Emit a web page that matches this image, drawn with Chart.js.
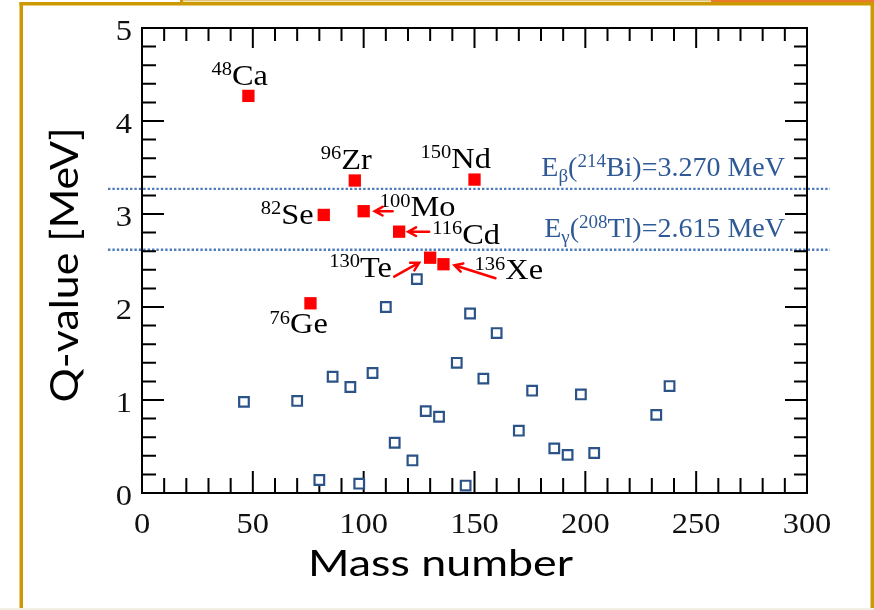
<!DOCTYPE html>
<html><head><meta charset="utf-8">
<script src="https://cdn.jsdelivr.net/npm/chart.js@4.4.0/dist/chart.umd.min.js"></script>
<style>html,body{margin:0;padding:0;background:#fff;}canvas{display:block;}</style>
</head><body>
<canvas id="c" width="874" height="610"></canvas>
<script>
// ---------------- data ----------------
const candidateMass    = [48, 76, 82, 96, 100, 116, 130, 136, 150];
const candidateQ       = [4.27, 2.04, 2.99, 3.36, 3.03, 2.81, 2.53, 2.46, 3.37];
const candidateElement = ['Ca', 'Ge', 'Se', 'Zr', 'Mo', 'Cd', 'Te', 'Xe', 'Nd'];

const otherMass = [46, 70, 80, 86, 94, 98, 104, 110, 114, 122, 124, 128, 134, 142, 146, 148, 154, 160, 170, 176, 186, 192, 198, 204, 232, 238];
const otherQ    = [0.98, 0.99, 0.14, 1.25, 1.14, 0.10, 1.29, 2.00, 0.54, 0.35, 2.30, 0.88, 0.82, 1.40, 0.08, 1.93, 1.23, 1.72, 0.67, 1.10, 0.48, 0.41, 1.06, 0.43, 0.84, 1.15];

const xTickLabels = ['0', '50', '100', '150', '200', '250', '300'];
const yTickLabels = ['0', '1', '2', '3', '4', '5'];

const refLineValues = [3.270, 2.615];
const refLineText = [
  [['E', 'n'], ['\u03B2', 'sub'], ['(', 'n'], ['214', 'sup'], ['Bi)=3.270 MeV', 'n']],
  [['E', 'n'], ['\u03B3', 'sub'], ['(', 'n'], ['208', 'sup'], ['Tl)=2.615 MeV', 'n']]
];

const xTitle = 'Mass number';
const yTitle = 'Q-value [MeV]';

// ---------------- layout / style (pixel offsets, not data) ----------------
const labelOffset = { // start x and baseline of each isotope label, relative to its point
  Ca: [-37, -11], Ge: [-41, 30], Se: [-63, 9], Zr: [-34, -12], Mo: [16, 5],
  Cd: [33, 12], Te: [-101, 19], Xe: [31, 15], Nd: [-54, -12]
};
const arrowOffset = { // tail and head relative to point
  Mo: [[29, 0], [11, 0]],
  Cd: [[30, 0], [9, 0]],
  Te: [[-36, 19], [-11, 5]],
  Xe: [[52, 14], [11, 1]]
};
const SERIF = '"Liberation Serif", "Times New Roman", serif';
const SANS = 'Lato, "Open Sans", sans-serif';
const RED = '#ff0000';
const BLUE = '#2b5388';

function drawRich(ctx, segs, x, base, size, supSize, sx, color, align) {
  ctx.save();
  ctx.fillStyle = color;
  ctx.textBaseline = 'alphabetic';
  ctx.textAlign = 'left';
  const parts = segs.map(([t, k]) => {
    const fs = k === 'n' ? size : supSize;
    ctx.font = fs + 'px ' + SERIF;
    return { t, k, fs, w: ctx.measureText(t).width * sx };
  });
  const total = parts.reduce((s, p) => s + p.w, 0);
  let cx = align === 'right' ? x - total : (align === 'center' ? x - total / 2 : x);
  parts.forEach(p => {
    ctx.font = p.fs + 'px ' + SERIF;
    let dy = 0;
    if (p.k === 'sup') dy = -size * 0.32;
    if (p.k === 'sub') dy = size * 0.2;
    ctx.save();
    ctx.translate(cx, base + dy);
    ctx.scale(sx, 1);
    ctx.fillText(p.t, 0, 0);
    ctx.restore();
    cx += p.w;
  });
  ctx.restore();
}

function drawFit(ctx, txt, cx, base, font, targetW, rot) {
  ctx.save();
  ctx.font = font;
  ctx.fillStyle = '#000';
  ctx.textBaseline = 'alphabetic';
  ctx.textAlign = 'left';
  const w = ctx.measureText(txt).width;
  const s = targetW / w;
  ctx.translate(cx, base);
  if (rot) ctx.rotate(rot);
  ctx.scale(s, 1);
  ctx.fillText(txt, -w / 2, 0);
  ctx.restore();
}

const decorPlugin = {
  id: 'decor',
  beforeDraw(chart) {
    const ctx = chart.ctx;
    ctx.save();
    ctx.fillStyle = '#ffffff';
    ctx.fillRect(0, 0, 874, 610);
    ctx.fillStyle = '#f2f0e2';
    ctx.fillRect(0, 608, 874, 2);
    ctx.fillStyle = '#e0c678';
    ctx.fillRect(181, 0, 530, 1.5);
    ctx.fillStyle = '#ea7a2c';
    ctx.fillRect(711, 0, 163, 2);
    ctx.fillStyle = '#cc9900';
    ctx.fillRect(180, 0, 3, 3);
    ctx.fillRect(19.5, 2, 874, 3.5);
    ctx.fillRect(19.5, 2, 3.5, 606);
    ctx.fillRect(870.5, 2, 3.5, 606);
    ctx.restore();
  },
  beforeDatasetsDraw(chart) {
    const { ctx, chartArea: a, scales: { x, y } } = chart;
    // reference lines
    ctx.save();
    ctx.strokeStyle = '#4f7cbb';
    ctx.lineWidth = 2.4;
    ctx.setLineDash([2.4, 2]);
    refLineValues.forEach(v => {
      const py = y.getPixelForValue(v);
      ctx.beginPath();
      ctx.moveTo(a.left - 34, py);
      ctx.lineTo(a.right + 23, py);
      ctx.stroke();
    });
    ctx.restore();
    // frame + inward ticks
    ctx.save();
    ctx.strokeStyle = '#000';
    ctx.lineWidth = 2;
    ctx.strokeRect(a.left, a.top, a.right - a.left, a.bottom - a.top);
    ctx.beginPath();
    for (let i = 1; i < 30; i++) {
      const v = i * 10, major = v % 50 === 0;
      const px = x.getPixelForValue(v);
      ctx.moveTo(px, a.bottom); ctx.lineTo(px, a.bottom - (major ? 22 : 15));
      ctx.moveTo(px, a.top); ctx.lineTo(px, a.top + (major ? 20 : 13));
    }
    for (let i = 1; i < 25; i++) {
      const v = i * 0.2, major = i % 5 === 0;
      const py = y.getPixelForValue(v);
      ctx.moveTo(a.left, py); ctx.lineTo(a.left + (major ? 22 : 14), py);
      ctx.moveTo(a.right, py); ctx.lineTo(a.right - (major ? 22 : 13), py);
    }
    ctx.stroke();
    ctx.restore();
    // tick labels
    ctx.save();
    ctx.fillStyle = '#111';
    ctx.font = '29px ' + SERIF;
    ctx.textBaseline = 'alphabetic';
    xTickLabels.forEach(t => {
      const px = x.getPixelForValue(parseFloat(t));
      const w = ctx.measureText(t).width * 1.12;
      ctx.save(); ctx.translate(px - w / 2, a.bottom + 40); ctx.scale(1.12, 1); ctx.fillText(t, 0, 0); ctx.restore();
    });
    yTickLabels.forEach(t => {
      const py = y.getPixelForValue(parseFloat(t));
      const w = ctx.measureText(t).width * 1.12;
      ctx.save(); ctx.translate(a.left - 10 - w, py + 12); ctx.scale(1.12, 1); ctx.fillText(t, 0, 0); ctx.restore();
    });
    ctx.restore();
    // axis titles
    drawFit(ctx, xTitle, (a.left + a.right) / 2 - 34, 576, '36px ' + SANS, 265, 0);
    drawFit(ctx, yTitle, 78, 265, '38px ' + SANS, 275, -Math.PI / 2);
  },
  afterDatasetsDraw(chart) {
    const { ctx, chartArea: a, scales: { x, y } } = chart;
    // reference line labels
    refLineValues.forEach((v, i) => {
      const py = y.getPixelForValue(v);
      drawRich(ctx, refLineText[i], a.right - 22, py - 12.5, 28, 19, 1.0, '#2f5a96', 'right');
    });
    // isotope labels
    candidateElement.forEach((el, i) => {
      const px = x.getPixelForValue(candidateMass[i]);
      const py = y.getPixelForValue(candidateQ[i]);
      const [dx, dy] = labelOffset[el];
      drawRich(ctx, [[String(candidateMass[i]), 'sup'], [el, 'n']], px + dx, py + dy, 30, 19, 1.08, '#000', 'left');
    });
    // arrows
    ctx.save();
    ctx.strokeStyle = RED;
    ctx.lineWidth = 2.5;
    ctx.lineCap = 'round';
    candidateElement.forEach((el, i) => {
      if (!arrowOffset[el]) return;
      const px = x.getPixelForValue(candidateMass[i]);
      const py = y.getPixelForValue(candidateQ[i]);
      const [[tx, ty], [hx, hy]] = arrowOffset[el];
      const x1 = px + tx, y1 = py + ty, x2 = px + hx, y2 = py + hy;
      const ang = Math.atan2(y2 - y1, x2 - x1);
      ctx.beginPath();
      ctx.moveTo(x1, y1); ctx.lineTo(x2, y2);
      ctx.moveTo(x2 - 9 * Math.cos(ang - 0.5), y2 - 9 * Math.sin(ang - 0.5));
      ctx.lineTo(x2, y2);
      ctx.lineTo(x2 - 9 * Math.cos(ang + 0.5), y2 - 9 * Math.sin(ang + 0.5));
      ctx.stroke();
    });
    ctx.restore();
  }
};

new Chart(document.getElementById('c'), {
  type: 'scatter',
  data: {
    datasets: [
      {
        label: 'other',
        data: otherMass.map((m, i) => ({ x: m, y: otherQ[i] })),
        pointStyle: 'rect', pointRadius: 6.8, pointHoverRadius: 6.8,
        backgroundColor: '#ffffff', borderColor: BLUE, borderWidth: 2.2
      },
      {
        label: 'candidates',
        data: candidateMass.map((m, i) => ({ x: m, y: candidateQ[i] })),
        pointStyle: 'rect', pointRadius: 8.7, pointHoverRadius: 8.7,
        backgroundColor: RED, borderColor: RED, borderWidth: 0
      }
    ]
  },
  options: {
    responsive: false,
    animation: false,
    devicePixelRatio: 1,
    layout: { padding: { left: 142, top: 28, right: 67, bottom: 117 } },
    plugins: { legend: { display: false }, tooltip: { enabled: false }, title: { display: false } },
    scales: {
      x: { type: 'linear', min: 0, max: 300, display: false },
      y: { type: 'linear', min: 0, max: 5, display: false }
    }
  },
  plugins: [decorPlugin]
});
</script>
</body></html>
